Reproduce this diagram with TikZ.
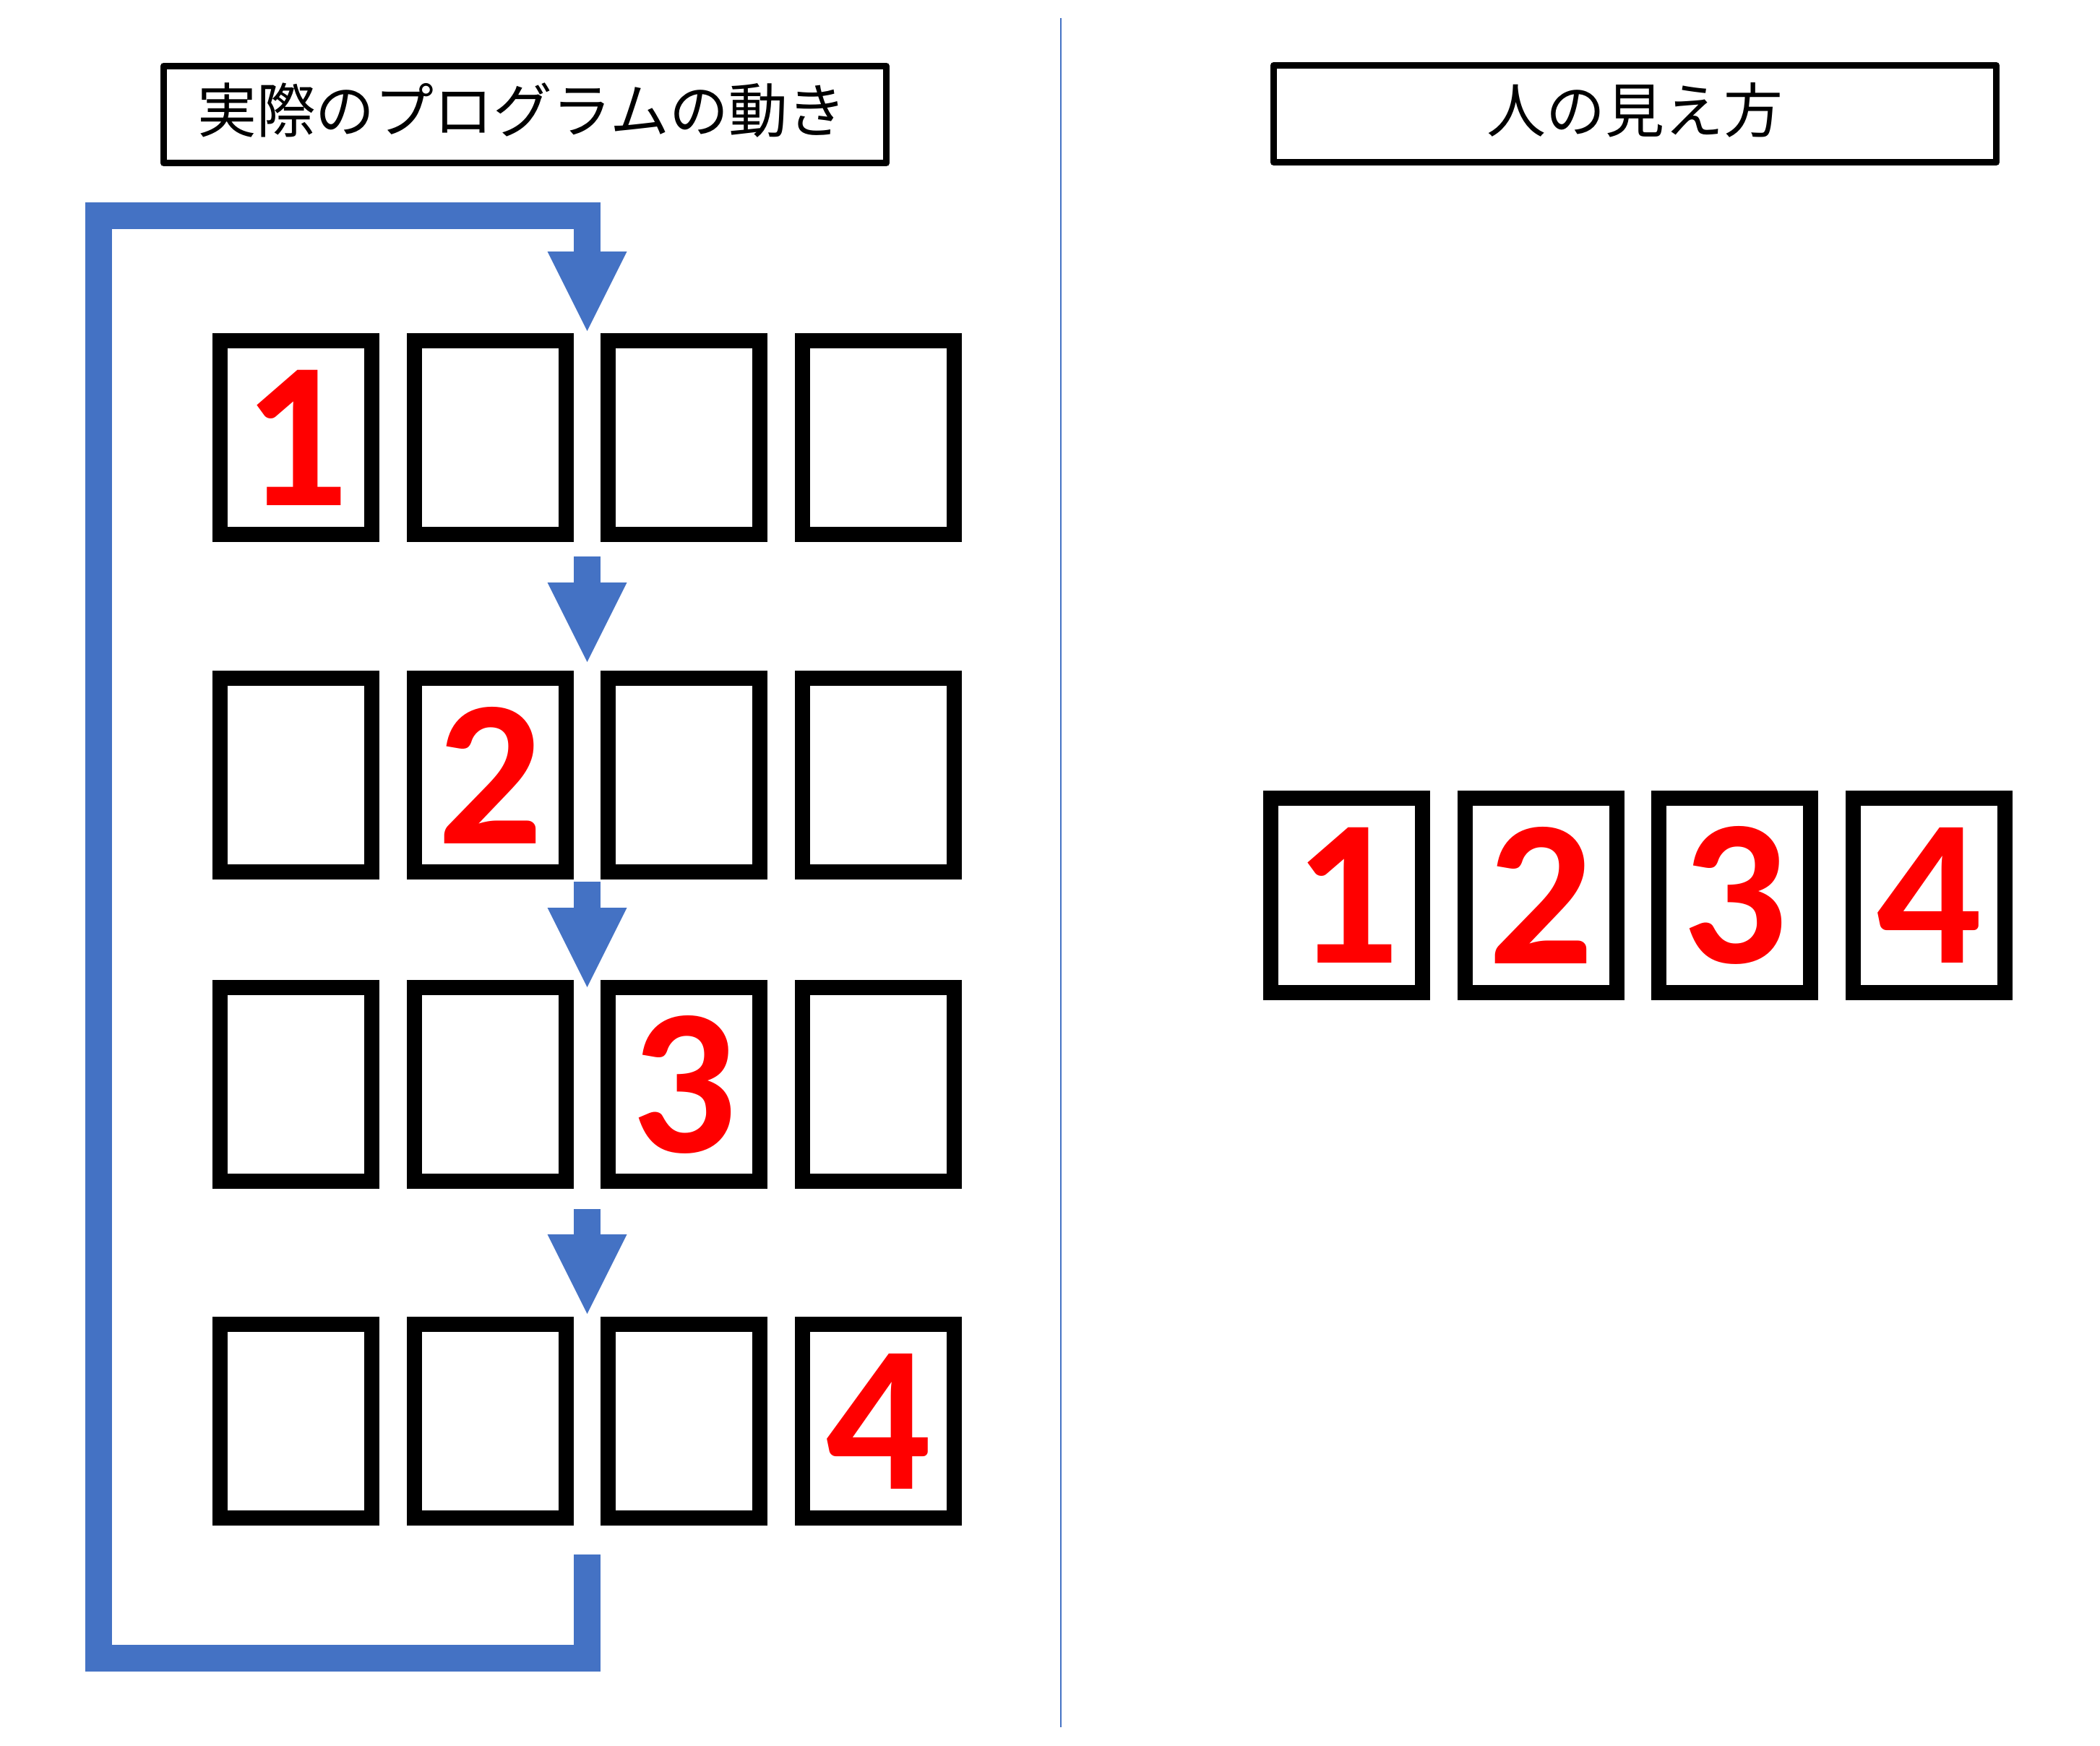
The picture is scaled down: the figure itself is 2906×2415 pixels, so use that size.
\documentclass[tikz,border=0pt]{standalone}
\usepackage{fontspec}
\newfontfamily\jpfont{Noto Sans CJK JP}
\newfontfamily\digitfont{Carlito}
\usetikzlibrary{calc}
\definecolor{officeblue}{HTML}{4472C4}
\definecolor{digitred}{HTML}{FF0000}
\newcommand\flowarrow[4]{%
  \coordinate (#1s) at (812.5,#2);
  \coordinate (#1b) at (812.5,#3);
  \coordinate (#1t) at (812.5,#4);
  \draw[flow] (#1s) -- ($(#1b)+(0,2)$);
  \fill[head] ($(#1b)+(-55,0)$) -- ($(#1b)+(55,0)$) -- (#1t) -- cycle;}
\newcommand\celldigit[1]{\raisebox{-0.05cm}{#1}}
\begin{document}
\begin{tikzpicture}[x=0.01cm,y=-0.01cm,
  cell/.style={draw=black, line width=0.21cm, minimum width=2.10cm, minimum height=2.68cm,
    inner sep=0pt, outer sep=0pt, fill=white, text=digitred,
    font=\digitfont\bfseries\fontsize{82pt}{86pt}\selectfont},
  titlebox/.style={draw=black, line width=0.09cm, line join=round, minimum width=10.0cm,
    minimum height=1.34cm, inner sep=0pt},
  titletext/.style={inner sep=0pt, font=\jpfont\fontsize{23.3pt}{28pt}\selectfont},
  flow/.style={draw=officeblue, line width=0.37cm, line cap=butt, line join=miter},
  head/.style={fill=officeblue}]
\useasboundingbox (0,0) rectangle (2906,2415);

% divider
\coordinate (divtop) at (1468,25);
\coordinate (divbot) at (1468,2390);
\draw[officeblue, line width=0.025cm] (divtop) -- (divbot);

% titles
\node[titlebox] (tleft) at (726.5,158.5) {};
\node[titletext] (tlefttxt) at ($(tleft.center)+(-4,-6)$) {実際のプログラムの動き};
\node[titlebox] (tright) at (2262.5,157.5) {};
\node[titletext] (trighttxt) at ($(tright.center)+(0,-5)$) {人の見え方};

% left grid
\foreach \r/\y in {1/605.5, 2/1072.5, 3/1500.5, 4/1966.5}{
  \foreach \c/\x in {1/409.5, 2/678.2, 3/946.8, 4/1215.5}{
    \node[cell] (r\r c\c) at (\x,\y) {\ifnum\r=\c\relax\celldigit{\r}\fi};
  }
}

% right row
\foreach \c/\x in {1/1863.5, 2/2132.5, 3/2400.5, 4/2669.5}{
  \node[cell] (h\c) at (\x,1239) {\celldigit{\c}};
}

% loop
\coordinate (loopstart) at (812.5,2151);
\coordinate (loopbr) at (812.5,2294.5);
\coordinate (loopbl) at (136.5,2294.5);
\coordinate (looptl) at (136.5,298.5);
\coordinate (looptr) at (812.5,298.5);
\coordinate (loopend) at (812.5,348);
\coordinate (looptip) at (812.5,458);
\draw[flow] (loopstart) -- (loopbr) -- (loopbl) -- (looptl) -- (looptr) -- ($(loopend)+(0,2)$);
\fill[head] ($(loopend)+(-55,0)$) -- ($(loopend)+(55,0)$) -- (looptip) -- cycle;

% step arrows
\flowarrow{aone}{770}{806}{916}
\flowarrow{atwo}{1220}{1256}{1366}
\flowarrow{athree}{1673}{1708}{1818}
\end{tikzpicture}
\end{document}
